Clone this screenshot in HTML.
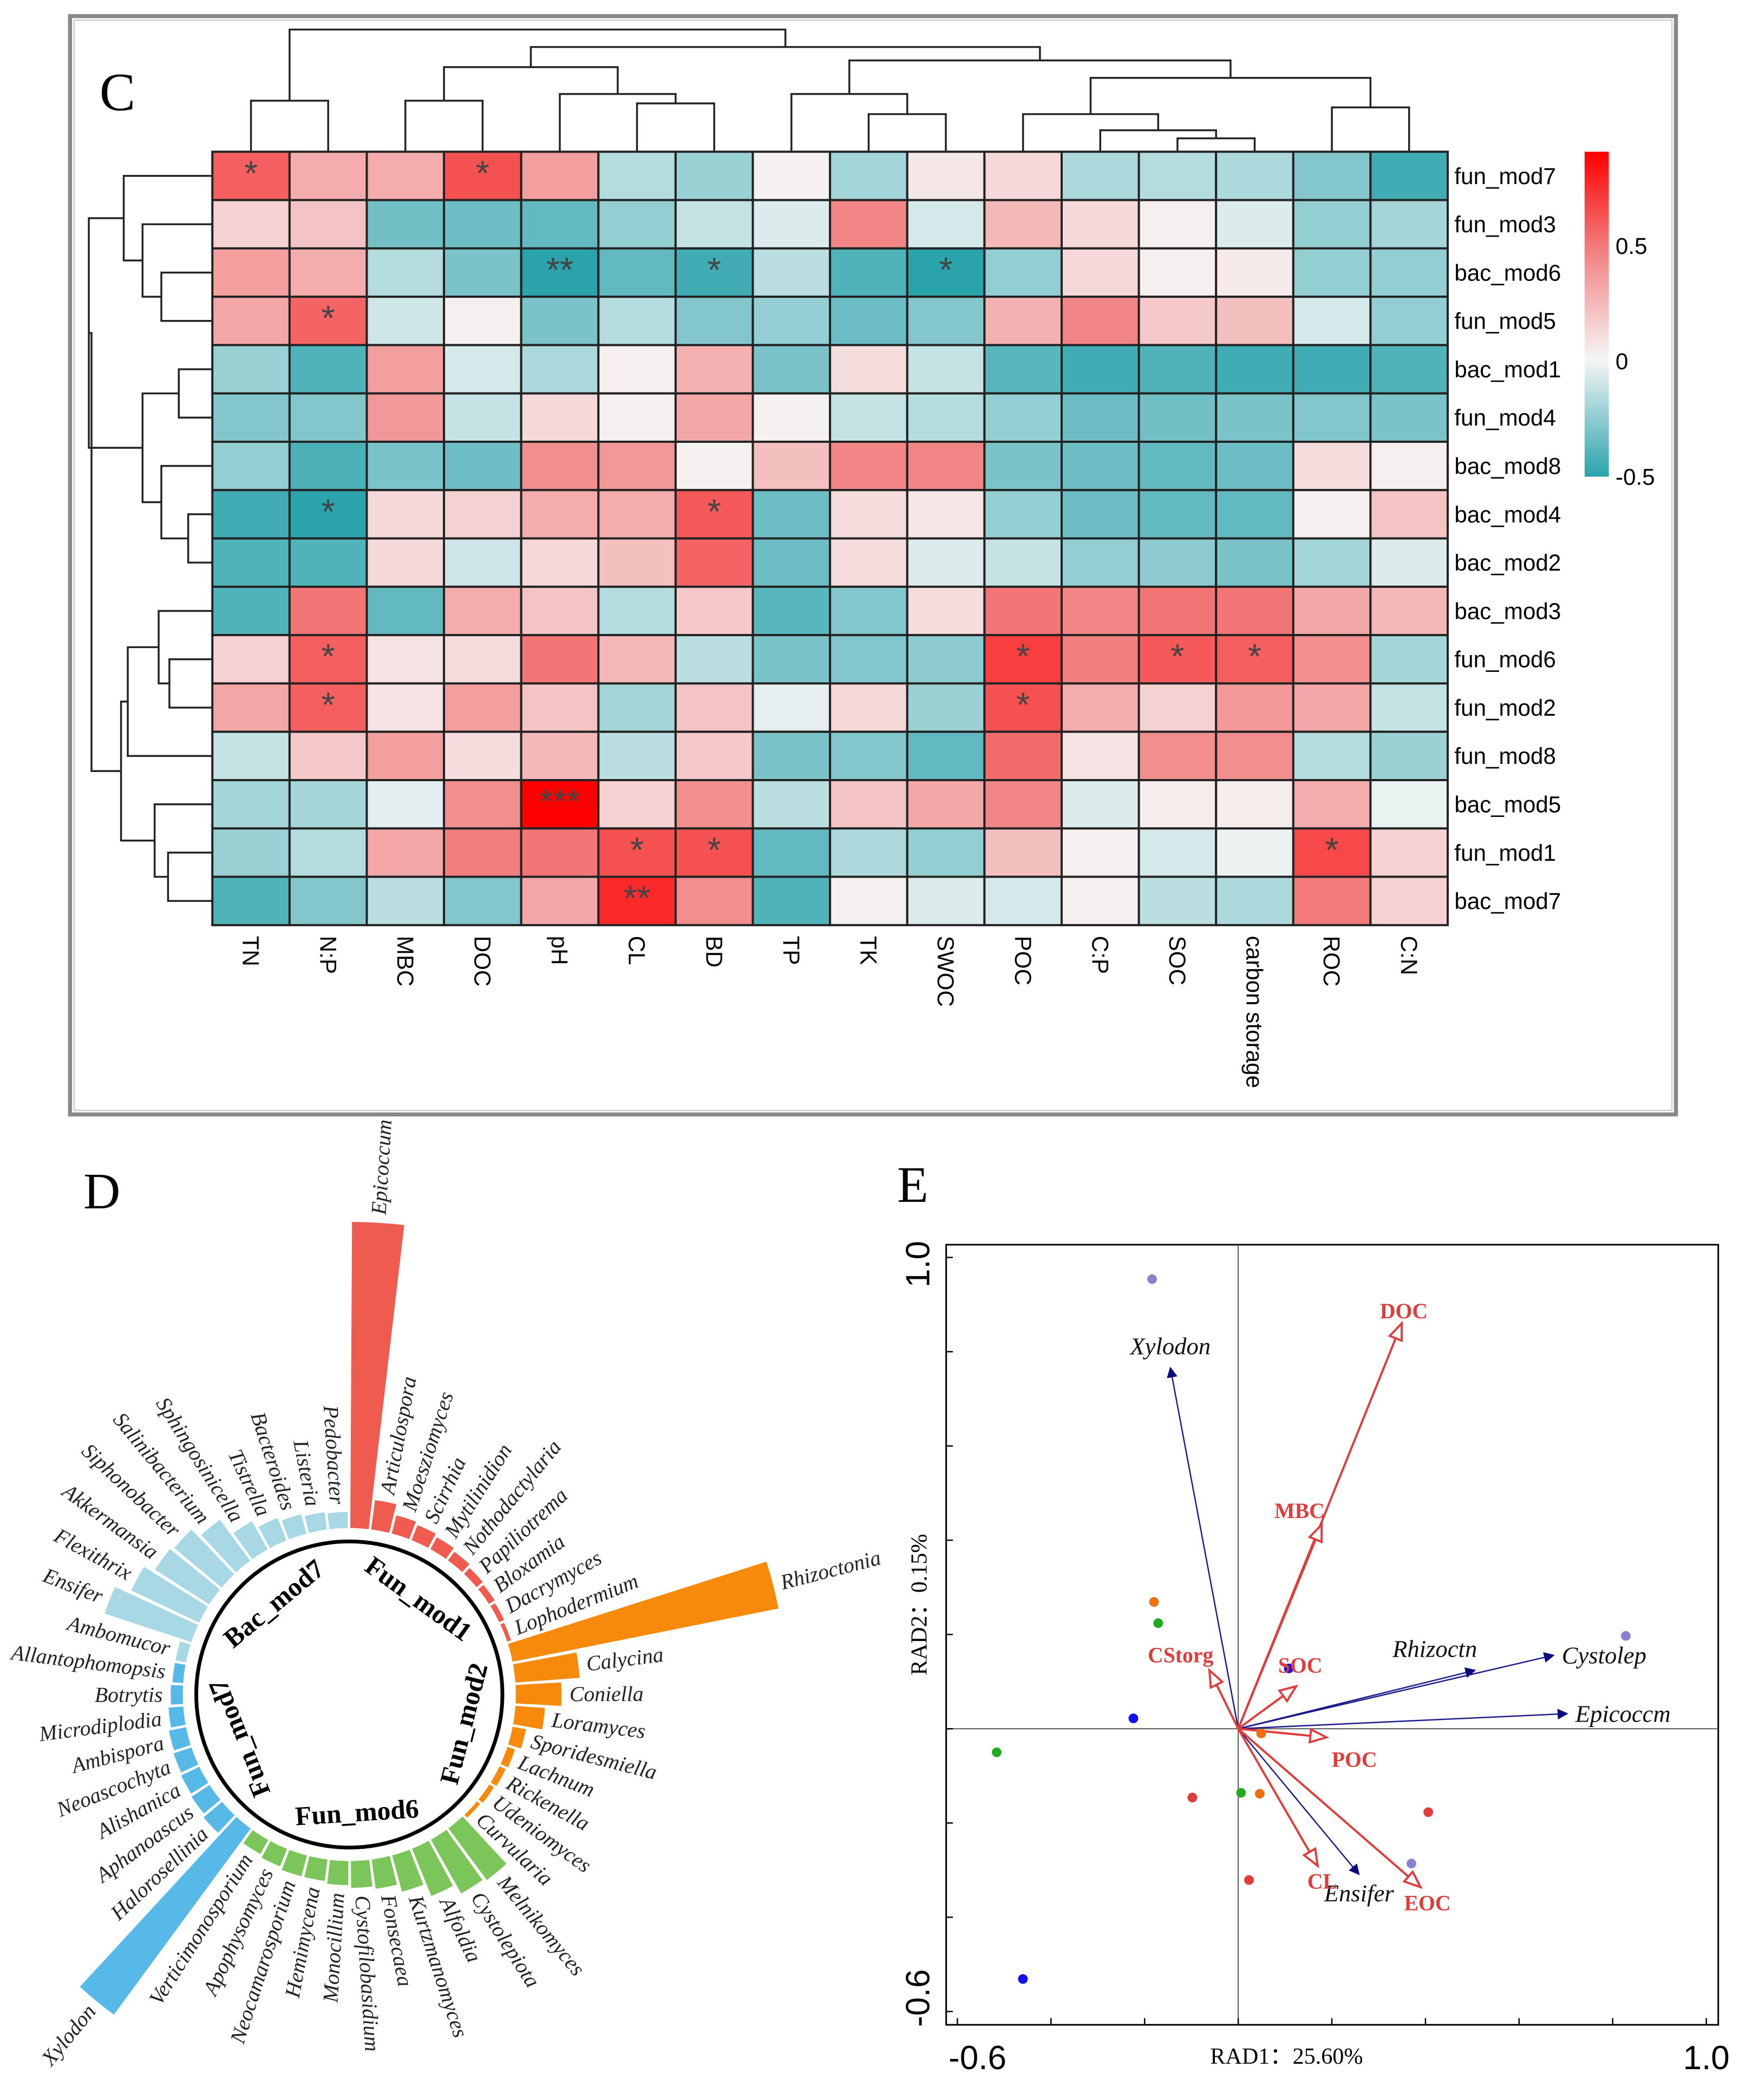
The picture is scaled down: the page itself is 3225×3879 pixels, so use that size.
<!DOCTYPE html>
<html><head><meta charset="utf-8"><style>
html,body{margin:0;padding:0;background:#fff}
svg{display:block}
</style></head><body>
<svg id="fig" xmlns="http://www.w3.org/2000/svg" width="3225" height="3879" viewBox="0 0 1300 1564">
<rect x="0" y="0" width="1300" height="1564" fill="#fff"/>
<g id="panelC">
<rect x="52" y="12" width="1196" height="818" fill="none" stroke="#888" stroke-width="3"/>
<rect x="55" y="15" width="1190" height="812" fill="none" stroke="#ccc" stroke-width="1"/>
<text x="74" y="82" font-family="Liberation Serif, serif" font-size="40">C</text>
</g>
<g id="panelD">
<text x="62" y="900" font-family="Liberation Serif, serif" font-size="38">D</text>
</g>
<g id="panelE">
<text x="668" y="895" font-family="Liberation Serif, serif" font-size="38">E</text>
</g>
</svg>
<script>
// ---------- Heatmap data ----------
const hmCols = ["TN","N:P","MBC","DOC","pH","CL","BD","TP","TK","SWOC","POC","C:P","SOC","carbon storage","ROC","C:N"];
const hmRows = ["fun_mod7","fun_mod3","bac_mod6","fun_mod5","bac_mod1","fun_mod4","bac_mod8","bac_mod4","bac_mod2","bac_mod3","fun_mod6","fun_mod2","fun_mod8","bac_mod5","fun_mod1","bac_mod7"];
const hmValues = [
[0.6,0.3,0.3,0.65,0.35,-0.2,-0.28,0.02,-0.25,0.06,0.12,-0.22,-0.2,-0.22,-0.35,-0.55],
[0.15,0.2,-0.4,-0.42,-0.45,-0.3,-0.15,-0.08,0.45,-0.1,0.25,0.12,0.03,-0.08,-0.3,-0.25],
[0.35,0.3,-0.2,-0.38,-0.62,-0.45,-0.55,-0.18,-0.5,-0.62,-0.3,0.12,0.03,0.05,-0.3,-0.3],
[0.32,0.58,-0.12,0.03,-0.38,-0.2,-0.35,-0.3,-0.42,-0.35,0.28,0.45,0.18,0.22,-0.1,-0.3],
[-0.28,-0.5,0.35,-0.1,-0.22,0.03,0.28,-0.38,0.1,-0.15,-0.48,-0.55,-0.5,-0.55,-0.55,-0.5],
[-0.35,-0.35,0.38,-0.15,0.12,0.03,0.32,0.02,-0.15,-0.2,-0.3,-0.42,-0.4,-0.38,-0.35,-0.38],
[-0.3,-0.52,-0.38,-0.42,0.42,0.38,0.02,0.22,0.45,0.45,-0.38,-0.42,-0.45,-0.42,0.1,0.03],
[-0.55,-0.62,0.12,0.15,0.3,0.3,0.62,-0.42,0.1,0.06,-0.3,-0.42,-0.45,-0.45,0.02,0.2],
[-0.5,-0.5,0.12,-0.12,0.12,0.22,0.58,-0.42,0.1,-0.08,-0.15,-0.3,-0.32,-0.38,-0.25,-0.08],
[-0.5,0.52,-0.45,0.3,0.2,-0.2,0.18,-0.48,-0.35,0.1,0.52,0.45,0.52,0.52,0.32,0.25],
[0.15,0.6,0.08,0.1,0.52,0.25,-0.18,-0.38,-0.35,-0.32,0.72,0.48,0.62,0.6,0.42,-0.25],
[0.32,0.6,0.08,0.35,0.2,-0.25,0.2,-0.05,0.12,-0.28,0.65,0.3,0.15,0.38,0.32,-0.15],
[-0.15,0.18,0.35,0.1,0.25,-0.18,0.18,-0.38,-0.35,-0.45,0.55,0.08,0.42,0.42,-0.2,-0.28],
[-0.25,-0.25,-0.06,0.42,0.95,0.15,0.42,-0.18,0.2,0.32,0.45,-0.08,0.04,0.04,0.3,-0.04],
[-0.28,-0.2,0.32,0.48,0.52,0.65,0.65,-0.45,-0.22,-0.3,0.22,0.03,-0.1,-0.03,0.68,0.15],
[-0.5,-0.35,-0.18,-0.35,0.32,0.8,0.42,-0.5,0.02,-0.08,-0.1,0.03,-0.18,-0.22,0.5,0.15]];
const hmStars = [[0,0,"*"],[0,3,"*"],[2,4,"**"],[2,6,"*"],[2,9,"*"],[3,1,"*"],[7,1,"*"],[7,6,"*"],[10,1,"*"],[10,10,"*"],[10,12,"*"],[10,13,"*"],[11,1,"*"],[11,10,"*"],[13,4,"***"],[14,5,"*"],[14,6,"*"],[14,14,"*"],[15,5,"**"]];
const legendTicks = [0.5,0,-0.5];
const legendLabels = ["0.5","0","-0.5"];

// ---------- Circular bar data ----------
const cbGroups = ["Fun_mod1","Fun_mod2","Fun_mod6","Fun_mod7","Bac_mod7"];
const cbGroupOf = [0,0,0,0,0,0,0,0,0,0, 1,1,1,1,1,1,1,1,1, 2,2,2,2,2,2,2,2,2,2,2, 3,3,3,3,3,3,3,3,3, 4,4,4,4,4,4,4,4,4,4,4];
const cbNames = ["Epicoccum","Articulospora","Moesziomyces","Scirrhia","Mytilinidion","Nothodactylaria","Papiliotrema","Bloxamia","Dacrymyces","Lophodermium",
"Rhizoctonia","Calycina","Coniella","Loramyces","Sporidesmiella","Lachnum","Rickenella","Udeniomyces","Curvularia",
"Melnikomyces","Cystolepiota","Alfoldia","Kurtzmanomyces","Fonsecaea","Cystofilobasidium","Monocillium","Hemimycena","Neocamarosporium","Apophysomyces","Verticimonosporium",
"Xylodon","Halorosellinia","Aphanoascus","Alishanica","Neoascochyta","Ambispora","Microdiplodia","Botrytis","Allantophomopsis",
"Ambomucor","Ensifer","Flexithrix","Akkermansia","Siphonobacter","Salinibacterium","Sphingosinicella","Tistrella","Bacteroides","Listeria","Pedobacter"];
const cbValues = [228,22,14,12,10,8,6,5,4,3,
202,48,34,22,10,6,5,4,3,
48,46,38,28,22,20,18,16,16,14,12,
172,18,16,15,14,13,11,9,8,
8,68,56,48,46,38,24,18,15,13,12];

// ---------- RDA data ----------
const rdaXTicks = [-0.6,-0.4,-0.2,0,0.2,0.4,0.6,0.8,1.0];
const rdaYTicks = [1.0,0.8,0.6,0.4,0.2,0,-0.2,-0.4,-0.6];
const siteX = [-0.184,-0.180,-0.171,0.108,-0.224,-0.516,0.049,-0.098,0.006,0.046,0.406,0.370,0.023,-0.460,0.828];
const siteY = [0.954,0.269,0.224,0.128,0.022,-0.050,-0.010,-0.146,-0.136,-0.138,-0.177,-0.286,-0.321,-0.531,0.197];
const siteGroup = ["purple","orange","green","blue","blue","green","orange","red","green","orange","red","purple","red","blue","purple"];
const speciesNames = ["Xylodon","Rhizoctn","Cystolep","Epicoccm","Ensifer"];
const speciesX = [-0.145,0.506,0.674,0.703,0.258];
const speciesY = [0.766,0.124,0.156,0.032,-0.309];
const envNames = ["DOC","MBC","CStorg","SOC","POC","CL","EOC"];
const envX = [0.348,0.177,-0.060,0.121,0.185,0.168,0.387];
const envY = [0.857,0.430,0.121,0.088,-0.018,-0.288,-0.334];

const NS="http://www.w3.org/2000/svg";
function mk(tag, parent, attrs){const e=document.createElementNS(NS,tag);for(const k in attrs)e.setAttribute(k,attrs[k]);parent.appendChild(e);return e;}

// ---------- Heatmap ----------
(function(){
const g=document.getElementById('panelC');
const x0=158,y0=113,cw=57.5,ch=36;
const cx=i=>x0+cw*(i+0.5), cy=j=>y0+ch*(j+0.5);
function lerp(a,b,t){return Math.round(a+(b-a)*t);}
function mix(c1,c2,t){return `rgb(${lerp(c1[0],c2[0],t)},${lerp(c1[1],c2[1],t)},${lerp(c1[2],c2[2],t)})`;}
function col(v){
 if(v<0){const t=Math.min(1,-v/0.62);return mix([246,246,246],[42,163,172],t);}
 if(v<0.5){return mix([246,246,246],[242,122,122],v/0.5);}
 return mix([242,122,122],[255,0,0],Math.min(1,(v-0.5)/0.45));
}
hmRows.forEach((r,j)=>{hmCols.forEach((c,i)=>{
 const rc=mk('rect',g,{x:x0+cw*i,y:y0+ch*j,width:cw,height:ch,fill:col(hmValues[j][i]),stroke:'#222','stroke-width':1.6});
 
 
});});
hmStars.forEach(s=>{
 const t=mk('text',g,{x:cx(s[1]),y:y0+ch*s[0]+25,'text-anchor':'middle','font-family':'Liberation Sans, sans-serif','font-size':26,fill:'#444'});
 t.textContent=s[2];
 
 
});
hmRows.forEach((r,j)=>{
 const t=mk('text',g,{x:1083,y:cy(j)+6,'font-family':'Liberation Sans, sans-serif','font-size':17});
 t.textContent=r;
 
 
});
hmCols.forEach((c,i)=>{
 const t=mk('text',g,{transform:`translate(${cx(i)-6},697) rotate(90)`,'font-family':'Liberation Sans, sans-serif','font-size':17});
 t.textContent=c;
 
 
});
const defs=mk('defs',g,{});
const lg=mk('linearGradient',defs,{id:'lg',x1:0,y1:0,x2:0,y2:1});
[[0,'#ff0000'],[0.29,'#f27a7a'],[0.64,'#f6f6f6'],[1,'#2aa3ac']].forEach(s=>mk('stop',lg,{offset:s[0],'stop-color':s[1]}));
const lb=mk('rect',g,{x:1180,y:113,width:18,height:242,fill:'url(#lg)'});


const ly=v=>269-v*172;
legendTicks.forEach((v,k)=>{
 const t=mk('text',g,{x:1203,y:ly(v)+6,'font-family':'Liberation Sans, sans-serif','font-size':17});
 t.textContent=legendLabels[k];
 
 
});
const dg=mk('g',g,{stroke:'#222','stroke-width':1.4,fill:'none'});


function uJoin(a,ya,b,yb,y){mk('path',dg,{d:`M${a},${ya}V${y}H${b}V${yb}`});return (a+b)/2;}
const B=113;
let tnnp=uJoin(cx(0),B,cx(1),B,75);
let mbcdoc=uJoin(cx(2),B,cx(3),B,75);
let clbd=uJoin(cx(5),B,cx(6),B,77);
let phclbd=uJoin(cx(4),B,clbd,77,70);
let g1=uJoin(mbcdoc,75,phclbd,70,50);
let tkswoc=uJoin(cx(8),B,cx(9),B,85);
let tp3=uJoin(cx(7),B,tkswoc,85,70);
let soccs=uJoin(cx(12),B,cx(13),B,103);
let cp=uJoin(cx(11),B,soccs,103,97);
let poc=uJoin(cx(10),B,cp,97,85);
let roccn=uJoin(cx(14),B,cx(15),B,80);
let rr=uJoin(poc,85,roccn,80,58);
let r2=uJoin(tp3,70,rr,58,45);
let r3=uJoin(g1,50,r2,45,35);
uJoin(tnnp,75,r3,35,22);
const lgd=mk('g',g,{stroke:'#222','stroke-width':1.4,fill:'none'});


function vJoin(a,xa,b,xb,x){mk('path',lgd,{d:`M${xa},${a}H${x}V${b}H${xb}`});return (a+b)/2;}
const L=158;
let r23=vJoin(cy(2),L,cy(3),L,120);
let r123=vJoin(cy(1),L,r23,120,106);
let r0123=vJoin(cy(0),L,r123,106,92);
let r45=vJoin(cy(4),L,cy(5),L,133);
let r78=vJoin(cy(7),L,cy(8),L,140);
let r678=vJoin(cy(6),L,r78,140,120);
let r48=vJoin(r45,133,r678,120,106);
let top=vJoin(r0123,92,r48,106,66);
let r1011=vJoin(cy(10),L,cy(11),L,126);
let r912=vJoin(cy(9),L,r1011,126,118);
let r12=vJoin(r912,118,cy(12),L,95);
let r1415=vJoin(cy(14),L,cy(15),L,125);
let r1315=vJoin(cy(13),L,r1415,125,115);
let bot=vJoin(r12,95,r1315,115,90);
vJoin(top,66,bot,90,68);
})();

// ---------- Circular bar ----------
(function(){
const g=document.getElementById('panelD');
const CX=260,CY=1262,R0=124;
const colors=['#ef5c4f','#f7890b','#7bc55a','#56b9e8','#a7d8e3'];
const step=360/cbNames.length, start=3.5;
const P=(r,a)=>{const rad=a*Math.PI/180;return [CX+r*Math.sin(rad),CY-r*Math.cos(rad)];};
cbNames.forEach((n,i)=>{
 const a=start+step*i, a1=a-step*0.44, a2=a+step*0.44, r1=R0+cbValues[i];
 const p1=P(R0,a1),p2=P(r1,a1),p3=P(r1,a2),p4=P(R0,a2);
 const b=mk('path',g,{d:`M${p1}L${p2}A${r1},${r1} 0 0 1 ${p3}L${p4}A${R0},${R0} 0 0 0 ${p1}Z`,fill:colors[cbGroupOf[i]]});
 
 
 const rl=r1+6;
 const p=P(rl,a);
 let t;
 if(a<180){
  t=mk('text',g,{x:p[0],y:p[1],transform:`rotate(${a-90},${p[0]},${p[1]})`,'dominant-baseline':'central','font-family':'Liberation Serif, serif','font-style':'italic','font-size':16,fill:'#222'});
 } else {
  t=mk('text',g,{x:p[0],y:p[1],transform:`rotate(${a+90},${p[0]},${p[1]})`,'text-anchor':'end','dominant-baseline':'central','font-family':'Liberation Serif, serif','font-style':'italic','font-size':16,fill:'#222'});
 }
 t.textContent=n;
 
 
});
const c=mk('circle',g,{cx:CX,cy:CY,r:114,fill:'none',stroke:'#000','stroke-width':2.8});


cbGroups.forEach((gn,k)=>{
 const idx=cbGroupOf.map((v,i)=>v===k?i:-1).filter(i=>i>=0);
 const a=start+step*(idx[0]+idx[idx.length-1])/2;
 const p=P(88,a);
 const rot=(a>90&&a<200)?a+180:a;
 const t=mk('text',g,{x:p[0],y:p[1],transform:`rotate(${rot},${p[0]},${p[1]})`,'text-anchor':'middle','dominant-baseline':'central','font-family':'Liberation Serif, serif','font-weight':'bold','font-size':20});
 t.textContent=gn;
 
 
});
})();

// ---------- RDA ----------
(function(){
const g=document.getElementById('panelE');
const X=v=>922+v*348.6, Y=v=>1287.5-v*351;
const fr=mk('rect',g,{x:704.5,y:927,width:575,height:581,fill:'none',stroke:'#000','stroke-width':1.2});


const z1=mk('line',g,{x1:704.5,x2:1279.5,y1:Y(0),y2:Y(0),stroke:'#555','stroke-width':0.8});


const z2=mk('line',g,{x1:X(0),x2:X(0),y1:927,y2:1508,stroke:'#555','stroke-width':0.8});


rdaXTicks.forEach(v=>{
 const l=mk('line',g,{x1:X(v),x2:X(v),y1:1508,y2:1503,stroke:'#000'});
 
 
});
rdaYTicks.forEach(v=>{
 const l=mk('line',g,{x1:704.5,x2:709.5,y1:Y(v),y2:Y(v),stroke:'#000'});
 
 
});
[[rdaXTicks[0],'-0.6'],[rdaXTicks[8],'1.0']].forEach(p=>{
 const t=mk('text',g,{x:X(p[0])+(p[0]<0?15:0),y:1541,'text-anchor':'middle','font-family':'Liberation Sans, sans-serif','font-size':25});
 t.textContent=p[1];
 
 
});
[[rdaYTicks[0],'1.0'],[rdaYTicks[8],'-0.6']].forEach(p=>{
 const yy=Y(p[0])+(p[0]<0?-10:5);
 const t=mk('text',g,{x:692,y:yy,transform:`rotate(-90,692,${yy})`,'text-anchor':'middle','font-family':'Liberation Sans, sans-serif','font-size':25});
 t.textContent=p[1];
 
 
});
const xt=mk('text',g,{x:958,y:1537,'text-anchor':'middle','font-family':'Liberation Serif, serif','font-size':17});
xt.textContent='RAD1：25.60%';


const yt=mk('text',g,{x:690,y:1195,transform:'rotate(-90,690,1195)','text-anchor':'middle','font-family':'Liberation Serif, serif','font-size':17});
yt.textContent='RAD2：0.15%';


const pc={purple:'#8a80d0',orange:'#f07010',green:'#22aa22',blue:'#1010f0',red:'#e03c3c'};
const defs=mk('defs',g,{});
const m2=mk('marker',defs,{id:'ah2',viewBox:'0 0 10 10',refX:9,refY:5,markerWidth:16,markerHeight:12,orient:'auto',markerUnits:'userSpaceOnUse'});
mk('path',m2,{d:'M0,1L10,5L0,9Z',fill:'#fff',stroke:'#e03c3c','stroke-width':1.3});
const m1=mk('marker',defs,{id:'ah1',viewBox:'0 0 10 10',refX:9,refY:5,markerWidth:14,markerHeight:8,orient:'auto',markerUnits:'userSpaceOnUse'});
mk('path',m1,{d:'M0,0L10,5L0,10Z',fill:'#0a0a80'});
speciesNames.forEach((n,i)=>{
 const l=mk('line',g,{x1:X(0),y1:Y(0),x2:X(speciesX[i]),y2:Y(speciesY[i]),stroke:'#1a1a8a','stroke-width':1,'marker-end':'url(#ah1)'});
 
 
});
envNames.forEach((n,i)=>{
 const l=mk('line',g,{x1:X(0),y1:Y(0),x2:X(envX[i]),y2:Y(envY[i]),stroke:'#e03c3c','stroke-width':1.6,'marker-end':'url(#ah2)'});
 
 
});
siteX.forEach((v,i)=>{
 const c=mk('circle',g,{cx:X(v),cy:Y(siteY[i]),r:3.6,fill:pc[siteGroup[i]]});
 
 
});
const spOff=[[0,-10,'middle'],[-30,-10,'middle'],[6,6,'start'],[6,6,'start'],[0,20,'middle']];
speciesNames.forEach((n,i)=>{
 const t=mk('text',g,{x:X(speciesX[i])+spOff[i][0],y:Y(speciesY[i])+spOff[i][1],'text-anchor':spOff[i][2],'font-family':'Liberation Serif, serif','font-style':'italic','font-size':18,fill:'#111'});
 t.textContent=n;
 
 
});
const enOff=[[2,-5],[-16,-6],[-22,-7],[4,-11],[22,22],[4,18],[6,18]];
envNames.forEach((n,i)=>{
 const t=mk('text',g,{x:X(envX[i])+enOff[i][0],y:Y(envY[i])+enOff[i][1],'text-anchor':'middle','font-family':'Liberation Serif, serif','font-weight':'bold','font-size':16,fill:'#e03c3c'});
 t.textContent=n;
 
 
});
})();
</script>
</body></html>
